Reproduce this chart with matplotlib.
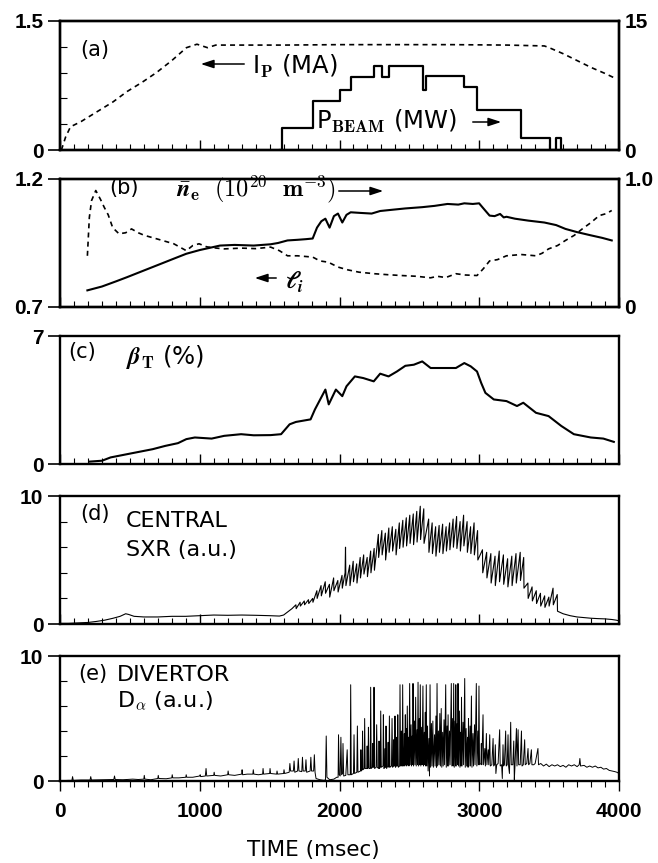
import numpy as np
import matplotlib.pyplot as plt
from matplotlib.patches import FancyArrowPatch
from matplotlib.ticker import MultipleLocator

plt.rcParams['mathtext.fontset'] = 'cm'
plt.rcParams['font.family'] = ['DejaVu Sans']

# ---- data (time in msec) ----
# (a) plasma current (MA, left axis) and beam power (MW, right axis)
ip_t = [10, 40, 75, 150, 270, 380, 480, 590, 690, 800, 905, 980, 1055, 1115,
        1300, 1600, 2000, 2400, 2800, 3200, 3466, 3500, 3600, 3700, 3800, 3900, 3965]
ip_v = [0.0, 0.15, 0.27, 0.33, 0.45, 0.56, 0.68, 0.79, 0.90, 1.04, 1.19, 1.23, 1.19, 1.22,
        1.22, 1.22, 1.225, 1.225, 1.225, 1.22, 1.21, 1.19, 1.12, 1.04, 0.96, 0.89, 0.84]

pb_t = [1575, 1590, 1808, 2004, 2080, 2245, 2306, 2351, 2601, 2622, 2893, 2984,
        3300, 3505, 3551, 3587, 4000]
pb_v = [0, 2.6, 5.7, 7.0, 8.45, 9.8, 8.45, 9.8, 7.0, 8.6, 7.3, 4.6,
        1.36, 0, 1.36, 0, 0]

# (b) line density (1e20 m^-3, right axis) and internal inductance (left axis)
ne_t = [196, 300, 400, 482, 600, 723, 820, 904, 1000, 1145, 1250, 1386, 1507, 1560,
        1628, 1700, 1760, 1808, 1839, 1870, 1899, 1929, 1960, 1989, 2020, 2050, 2080,
        2150, 2230, 2291, 2380, 2471, 2592, 2680, 2773, 2850, 2893, 2954, 2999, 3030,
        3074, 3110, 3149, 3175, 3195, 3255, 3350, 3466, 3550, 3617, 3700, 3798, 3880, 3948]
ne_v = [0.13, 0.16, 0.20, 0.234, 0.285, 0.338, 0.38, 0.416, 0.445, 0.48, 0.485, 0.48,
        0.49, 0.50, 0.52, 0.525, 0.53, 0.535, 0.62, 0.67, 0.69, 0.62, 0.71, 0.73, 0.66,
        0.72, 0.74, 0.735, 0.73, 0.75, 0.76, 0.77, 0.78, 0.79, 0.805, 0.80, 0.81, 0.805,
        0.81, 0.77, 0.714, 0.71, 0.727, 0.70, 0.705, 0.69, 0.675, 0.66, 0.64, 0.61,
        0.585, 0.56, 0.54, 0.52]

li_t = [196, 210, 226, 256, 290, 316, 345, 377, 422, 470, 512, 560, 603, 700, 814,
        904, 950, 995, 1050, 1120, 1175, 1300, 1400, 1507, 1570, 1628, 1700, 1808,
        1860, 1920, 1989, 2060, 2140, 2250, 2350, 2441, 2550, 2652, 2700, 2760, 2833,
        2900, 2984, 3030, 3074, 3130, 3195, 3300, 3406, 3450, 3496, 3560, 3617, 3680,
        3737, 3800, 3858, 3910, 3948]
li_v = [0.90, 1.05, 1.116, 1.155, 1.12, 1.09, 1.06, 1.01, 0.986, 0.99, 1.005, 0.99,
        0.98, 0.965, 0.947, 0.92, 0.94, 0.947, 0.935, 0.93, 0.927, 0.93, 0.928, 0.934,
        0.92, 0.90, 0.90, 0.895, 0.88, 0.875, 0.856, 0.845, 0.836, 0.83, 0.826, 0.823,
        0.82, 0.814, 0.82, 0.815, 0.83, 0.825, 0.823, 0.85, 0.88, 0.885, 0.90, 0.905,
        0.90, 0.91, 0.927, 0.94, 0.96, 0.98, 1.005, 1.03, 1.057, 1.065, 1.077]

# (c) toroidal beta (%)
bt_t = [211, 301, 362, 482, 663, 753, 844, 904, 965, 1085, 1175, 1296, 1386, 1507,
        1582, 1643, 1688, 1793, 1824, 1899, 1923, 1974, 2020, 2050, 2110, 2170, 2245,
        2291, 2351, 2411, 2471, 2532, 2592, 2652, 2743, 2833, 2893, 2939, 2984, 3014,
        3044, 3104, 3195, 3270, 3315, 3406, 3496, 3587, 3677, 3798, 3888, 3963]
bt_v = [0.13, 0.18, 0.36, 0.54, 0.81, 0.99, 1.14, 1.36, 1.45, 1.39, 1.54, 1.63, 1.57,
        1.58, 1.63, 2.17, 2.30, 2.44, 2.98, 4.07, 3.26, 4.07, 3.71, 4.25, 4.79, 4.70,
        4.52, 4.94, 4.79, 5.06, 5.37, 5.43, 5.61, 5.25, 5.25, 5.25, 5.52, 5.34, 5.06,
        4.43, 3.89, 3.53, 3.44, 3.17, 3.35, 2.80, 2.62, 2.08, 1.63, 1.45, 1.39, 1.21]

# (d) central soft x-ray (a.u.): sawtooth peaks and crashes
sxr_pts = [
    (0, 0.05), (60, 0.05), (120, 0.08), (200, 0.12), (260, 0.2), (320, 0.3), (380, 0.45),
    (430, 0.6), (470, 0.8), (490, 0.75), (530, 0.6), (600, 0.55), (700, 0.55), (800, 0.6),
    (900, 0.6), (1000, 0.65), (1100, 0.7), (1200, 0.68), (1300, 0.7), (1400, 0.68),
    (1500, 0.65), (1570, 0.62), (1600, 0.7), (1630, 0.95), (1660, 1.2),
    (1688, 1.5), (1690, 1.2), (1718, 1.7), (1720, 1.4), (1748, 1.8), (1750, 1.5),
    (1778, 1.9), (1780, 1.6), (1808, 2.0), (1810, 1.7), (1838, 2.6), (1840, 2.0),
    (1868, 3.0), (1870, 2.2), (1898, 3.3), (1900, 2.4), (1928, 3.1), (1930, 2.1),
    (1958, 3.6), (1960, 2.6), (1988, 3.4), (1990, 2.5), (2018, 3.8), (2020, 2.8),
    (2040, 4.0), (2043, 6.0), (2046, 3.0),
    (2073, 4.6), (2075, 3.0), (2098, 4.9), (2100, 3.3), (2123, 4.7), (2125, 3.2),
    (2148, 5.2), (2150, 3.6), (2173, 5.4), (2175, 3.9), (2198, 5.2), (2200, 3.7),
    (2223, 5.7), (2225, 4.0), (2248, 5.9), (2250, 4.2),
    (2278, 7.0), (2280, 5.2), (2303, 7.3), (2305, 5.4), (2328, 7.1), (2330, 5.0),
    (2353, 7.5), (2355, 5.6), (2378, 7.6), (2380, 5.7), (2403, 7.4), (2405, 5.4),
    (2428, 7.9), (2430, 5.9), (2453, 8.1), (2455, 6.0), (2478, 8.3), (2480, 6.1),
    (2503, 8.5), (2505, 6.3), (2528, 8.6), (2530, 6.2), (2553, 8.8), (2555, 6.4),
    (2578, 9.2), (2580, 6.6), (2603, 9.0), (2605, 6.3),
    (2638, 8.2), (2640, 5.6), (2663, 7.9), (2665, 5.5), (2688, 7.6), (2690, 5.3),
    (2713, 7.7), (2715, 5.6), (2738, 7.8), (2740, 5.5), (2763, 7.6), (2765, 5.7),
    (2788, 7.9), (2790, 5.8), (2813, 8.2), (2815, 6.0), (2838, 8.4), (2840, 5.9),
    (2863, 8.0), (2865, 5.7), (2888, 8.5), (2890, 6.1), (2913, 8.0), (2915, 5.6),
    (2938, 7.6), (2940, 5.5), (2963, 7.9), (2965, 5.4), (2988, 7.3), (2990, 5.0),
    (3023, 5.8), (3025, 4.0), (3053, 5.6), (3055, 3.6), (3083, 5.5), (3085, 3.2),
    (3113, 5.3), (3115, 3.0), (3143, 5.7), (3145, 3.3), (3173, 5.4), (3175, 3.1),
    (3203, 5.1), (3205, 2.9), (3233, 5.3), (3235, 3.0), (3263, 5.5), (3265, 3.2),
    (3293, 5.6), (3295, 3.4), (3318, 5.2), (3320, 2.8),
    (3348, 3.2), (3350, 2.0), (3378, 2.9), (3380, 1.8), (3408, 2.6), (3410, 1.6),
    (3438, 2.4), (3440, 1.4), (3468, 2.2), (3470, 1.3), (3498, 2.1), (3500, 1.4),
    (3528, 2.8), (3530, 1.5), (3558, 2.3), (3560, 1.0),
    (3600, 0.8), (3650, 0.65), (3700, 0.55), (3750, 0.5), (3800, 0.45), (3850, 0.42),
    (3900, 0.4), (3950, 0.35), (3980, 0.3), (4000, 0.25)]

# (e) divertor D-alpha (a.u.): baseline with ELM spikes
da_pts = [
    (0, 0.02), (60, 0.05), (85, 0.05), (90, 0.35), (95, 0.05), (150, 0.08), (215, 0.08),
    (220, 0.35), (225, 0.08), (300, 0.1), (360, 0.12), (385, 0.12), (390, 0.4), (395, 0.12),
    (450, 0.1), (520, 0.15), (560, 0.12), (600, 0.15), (603, 0.45), (607, 0.15), (650, 0.1),
    (700, 0.2), (703, 0.45), (707, 0.2), (760, 0.18), (800, 0.25), (803, 0.5), (807, 0.25),
    (850, 0.25), (900, 0.3), (903, 0.5), (907, 0.3), (950, 0.3), (1000, 0.4), (1003, 0.5),
    (1007, 0.35), (1040, 0.4), (1045, 1.0), (1050, 0.4), (1100, 0.45), (1103, 0.7),
    (1107, 0.45), (1150, 0.4), (1200, 0.5), (1203, 0.8), (1207, 0.5), (1250, 0.45),
    (1300, 0.55), (1303, 0.9), (1307, 0.5), (1340, 0.55), (1380, 0.55), (1383, 0.9),
    (1387, 0.55), (1420, 0.5), (1450, 0.55), (1453, 1.0), (1457, 0.55), (1500, 0.6),
    (1503, 1.0), (1507, 0.6), (1550, 0.55), (1553, 0.8), (1557, 0.55), (1600, 0.6),
    (1603, 0.9), (1607, 0.6),
    (1640, 0.7), (1645, 1.4), (1650, 0.8), (1670, 0.8), (1675, 1.6), (1680, 0.7),
    (1700, 0.8), (1705, 1.8), (1710, 0.8), (1730, 0.75), (1735, 1.9), (1740, 0.8),
    (1755, 0.8), (1760, 1.7), (1765, 0.7), (1790, 0.8), (1795, 1.9), (1800, 0.8),
    (1815, 0.8), (1820, 2.1), (1825, 0.7), (1832, 0.2),
    (1860, 0.1), (1890, 0.05), (1900, 0.1), (1905, 3.6), (1910, 0.3), (1930, 0.1),
    (1960, 0.15), (1980, 0.3), (1990, 0.3), (1993, 3.7), (1998, 0.5), (2005, 0.4),
    (2010, 3.5), (2015, 0.5), (2022, 0.6), (2025, 3.0), (2030, 0.4), (2045, 0.45),
    (2055, 2.5), (2060, 0.5),
    (2077, 0.5), (2080, 7.7), (2084, 0.5), (2100, 0.6), (2104, 3.7), (2108, 0.6),
    (2124, 0.7), (2128, 4.4), (2132, 0.7), (2150, 0.8), (2153, 2.5), (2156, 0.8),
    (2162, 0.9), (2165, 4.0), (2168, 0.9), (2177, 1.0), (2180, 5.0), (2184, 1.0),
    (2195, 1.0), (2198, 2.8), (2201, 1.0), (2204, 1.1), (2207, 4.3), (2211, 1.0),
    (2220, 1.0), (2223, 7.5), (2227, 1.0), (2235, 1.1), (2238, 3.0), (2241, 1.1),
    (2244, 1.1), (2247, 7.5), (2251, 1.0), (2262, 1.1), (2266, 4.5), (2270, 1.1),
    (2280, 1.0), (2283, 3.2), (2286, 1.0), (2292, 1.1), (2295, 5.6), (2299, 1.1),
    (2311, 1.2), (2314, 5.3), (2318, 1.0), (2324, 1.1), (2327, 2.6), (2329, 1.1),
    (2330, 1.1), (2333, 4.4), (2337, 1.0), (2345, 1.2), (2348, 3.1), (2350, 1.2),
    (2354, 1.1), (2357, 5.2), (2361, 1.1), (2372, 1.2), (2376, 5.0), (2380, 1.1),
    (2386, 1.2), (2388, 3.3), (2391, 1.2), (2394, 1.2), (2397, 5.2), (2401, 1.1),
    (2405, 1.2), (2408, 3.5), (2411, 1.2), (2414, 1.2), (2417, 5.3), (2421, 1.1),
    (2430, 1.2), (2433, 7.7), (2437, 1.2), (2440, 1.3), (2443, 4.0), (2446, 1.2),
    (2449, 1.2), (2452, 7.7), (2456, 1.2),
    (2460, 1.3), (2464, 3.8), (2467, 1.2), (2471, 5.3), (2474, 1.3), (2478, 4.2),
    (2481, 1.2), (2485, 6.0), (2489, 1.3), (2494, 3.5), (2497, 1.2), (2502, 7.8),
    (2506, 1.3), (2512, 4.5), (2515, 1.2), (2520, 3.6), (2523, 1.3), (2526, 7.8),
    (2530, 1.2), (2536, 4.8), (2540, 1.3), (2545, 6.7), (2549, 1.2), (2555, 4.1),
    (2558, 1.3), (2562, 7.9), (2566, 1.2), (2571, 5.0), (2574, 1.3), (2578, 7.7),
    (2582, 1.2), (2588, 4.3), (2591, 1.3), (2597, 7.6), (2601, 1.2), (2607, 3.9),
    (2610, 1.3), (2614, 5.5), (2617, 1.2), (2621, 7.7), (2625, 1.2), (2630, 4.4),
    (2634, 0.8), (2640, 3.4), (2644, 0.4), (2648, 7.7), (2652, 1.1), (2658, 4.6),
    (2662, 1.2), (2668, 4.8), (2672, 1.1), (2680, 3.7), (2684, 1.2), (2690, 5.2),
    (2694, 1.1), (2698, 7.8), (2702, 1.2), (2708, 4.0), (2712, 1.3), (2718, 5.4),
    (2722, 1.2), (2728, 5.8), (2732, 1.1), (2738, 3.9), (2742, 1.2), (2748, 4.9),
    (2752, 1.3), (2760, 7.7), (2764, 1.1), (2770, 4.4), (2773, 1.2), (2777, 5.3),
    (2781, 1.2), (2787, 4.0), (2791, 1.3), (2800, 7.8), (2804, 1.2), (2810, 5.0),
    (2813, 1.2), (2817, 7.8), (2821, 1.1), (2827, 4.8), (2830, 1.2), (2832, 7.7),
    (2836, 1.2), (2842, 4.6), (2845, 1.3), (2848, 7.8), (2852, 1.2), (2858, 5.6),
    (2862, 1.1), (2867, 3.9), (2870, 1.2), (2873, 6.7), (2877, 1.2), (2884, 4.7),
    (2888, 1.3), (2896, 8.2), (2900, 1.1), (2906, 4.2), (2910, 1.2), (2916, 3.5),
    (2920, 1.1), (2923, 5.0), (2927, 1.2), (2934, 4.4), (2938, 1.2), (2944, 6.8),
    (2948, 1.1), (2955, 3.8), (2959, 1.2), (2966, 4.5), (2970, 1.3), (2979, 7.8),
    (2983, 1.2), (2990, 4.0), (2994, 1.3), (2998, 7.6), (3002, 1.3),
    (3012, 1.4), (3015, 3.0), (3018, 1.3), (3027, 5.3), (3031, 1.3), (3040, 2.6),
    (3044, 1.2), (3051, 3.8), (3055, 1.3), (3064, 2.5), (3068, 1.3), (3075, 3.7),
    (3079, 1.2), (3090, 1.3), (3099, 3.4), (3103, 1.2), (3110, 1.3), (3115, 2.9),
    (3119, 0.6), (3125, 1.3), (3135, 1.4), (3146, 4.1), (3150, 1.2), (3160, 1.3),
    (3165, 0.2), (3170, 2.9), (3174, 1.2), (3180, 1.3), (3189, 4.0), (3193, 1.2),
    (3200, 1.3), (3206, 3.7), (3210, 1.2), (3216, 0.6), (3225, 4.7), (3229, 1.3),
    (3240, 1.3), (3247, 3.2), (3251, 0.1), (3256, 1.3), (3266, 4.2), (3270, 1.2),
    (3278, 4.1), (3282, 1.3), (3293, 1.3), (3302, 4.0), (3306, 1.2), (3315, 1.3),
    (3325, 3.3), (3329, 1.3), (3340, 1.4), (3349, 2.6), (3353, 1.3), (3362, 1.4),
    (3373, 2.5), (3377, 1.3), (3390, 1.3), (3400, 1.4), (3420, 2.6), (3424, 1.3),
    (3440, 1.4),
    (3460, 1.2), (3480, 1.35), (3500, 1.15), (3520, 1.3), (3540, 1.2), (3560, 1.3),
    (3580, 1.15), (3600, 1.25), (3620, 1.1), (3640, 1.3), (3660, 1.2), (3680, 1.3),
    (3700, 1.15), (3715, 1.3), (3720, 1.8), (3725, 1.2), (3750, 1.25), (3770, 1.1),
    (3790, 1.2), (3810, 1.1), (3830, 1.2), (3850, 1.05), (3870, 1.1), (3890, 0.95),
    (3910, 1.0), (3930, 0.85), (3950, 0.8), (3970, 0.75), (3985, 0.7), (4000, 0.6)]

time_ticks = [0, 1000, 2000, 3000, 4000]

sxr_t, sxr_v = np.array(sxr_pts).T
da_t, da_v = np.array(da_pts).T

W, H = 658.0, 863.0
TICKFONT = ['Liberation Sans', 'DejaVu Sans']


def fx(px):
    return px / W


def fy(py):
    return 1 - py / H


fig = plt.figure(figsize=(W / 100, H / 100), dpi=100)


def panel(top, bottom, ylim, ylabels, minor=None, last=False):
    ax = fig.add_axes([fx(60), fy(bottom), (619 - 60) / W, (bottom - top) / H])
    ax.set_xlim(0, 4000)
    ax.set_ylim(*ylim)
    for s in ax.spines.values():
        s.set_linewidth(1.7)
    ax.set_xticks(time_ticks)
    ax.xaxis.set_minor_locator(MultipleLocator(100))
    d = 'out' if last else 'in'
    ax.tick_params(axis='x', which='major', direction=d, length=7, width=1.0,
                   labelbottom=last, pad=8)
    ax.tick_params(axis='x', which='minor', direction=d, length=4, width=0.8)
    ax.set_yticks(list(ylim))
    ax.set_yticklabels(ylabels, fontsize=15, fontweight='bold', family=TICKFONT)
    ax.tick_params(axis='y', which='major', direction='out', length=9, width=1.2, pad=3)
    if minor:
        ax.yaxis.set_minor_locator(MultipleLocator(minor))
        ax.tick_params(axis='y', which='minor', direction='in', length=5, width=0.8)
    return ax


def right_axis(ax, ylim, ylabels):
    ax2 = ax.twinx()
    ax2.set_ylim(*ylim)
    ax2.set_yticks(list(ylim))
    ax2.set_yticklabels(ylabels, fontsize=15, fontweight='bold', family=TICKFONT)
    ax2.tick_params(axis='y', length=0, pad=4)
    for s in ax2.spines.values():
        s.set_linewidth(1.7)
    return ax2


def arrow(x0, x1, y):
    fig.add_artist(FancyArrowPatch(
        (fx(x0), fy(y)), (fx(x1), fy(y)), transform=fig.transFigure,
        arrowstyle='-|>,head_length=0.55,head_width=0.18', mutation_scale=14,
        lw=1.1, color='k'))


def label(x, y, s, size=16, **kw):
    fig.text(fx(x), fy(y), s, ha='left', va='center', fontsize=size, **kw)


# (a)
ax_a = panel(21, 150, (0, 1.5), ['0', '1.5'], minor=0.3)
ax_a.plot(ip_t, ip_v, color='k', lw=1.2, ls=(0, (3, 2.5)))
ax_a2 = right_axis(ax_a, (0, 15), ['0', '15'])
ax_a2.step(pb_t, pb_v, where='post', color='k', lw=1.6)
label(80, 50, '(a)', 15)
arrow(247, 198, 64)
label(252, 66, r'I$_{\mathbf{P}}$ (MA)', 17.5)
label(316, 121, r'P$_{\mathbf{BEAM}}$ (MW)', 17.5)
arrow(470, 504, 122)

# (b)
ax_b = panel(179, 307, (0.7, 1.2), ['0.7', '1.2'])
ax_b.plot(li_t, li_v, color='k', lw=1.2, ls=(0, (3, 2.5)))
ax_b2 = right_axis(ax_b, (0, 1.0), ['0', '1.0'])
ax_b2.plot(ne_t, ne_v, color='k', lw=1.5)
label(109, 188, '(b)', 15)
label(176, 189, r'$\bar{\mathbfit{n}}_{\mathbf{e}}\ \ \mathbf{(10^{20}\ \ m^{-3})}$', 17.5)
arrow(336, 386, 191)
arrow(279, 252, 278)
label(285, 282, r'$\mathbfit{\ell}_{\mathbfit{i}}$', 17)

# (c)
ax_c = panel(336, 464, (0, 7), ['0', '7'])
ax_c.plot(bt_t, bt_v, color='k', lw=1.5)
label(68, 352, '(c)', 15)
label(126, 357, r'$\mathbfit{\beta}_{\mathbf{T}}$ (%)', 17.5)

# (d)
ax_d = panel(496, 624, (0, 10), ['0', '10'], minor=2)
ax_d.plot(sxr_t, sxr_v, color='k', lw=0.8)
label(80, 514, '(d)', 15)
label(126, 521, 'CENTRAL')
label(126, 550, 'SXR (a.u.)')

# (e)
ax_e = panel(656, 781, (0, 10), ['0', '10'], minor=2, last=True)
ax_e.plot(da_t, da_v, color='k', lw=0.7)
ax_e.set_xticklabels([str(t) for t in time_ticks], fontsize=15,
                     fontweight='bold', family=TICKFONT)
label(78, 674, '(e)', 15)
label(117, 675, 'DIVERTOR')
label(117, 701, r'D$_{\alpha}$ (a.u.)')

fig.text(fx(313), fy(850), 'TIME (msec)', ha='center', va='center', fontsize=15.5)

fig.savefig('out.png', dpi=100)
